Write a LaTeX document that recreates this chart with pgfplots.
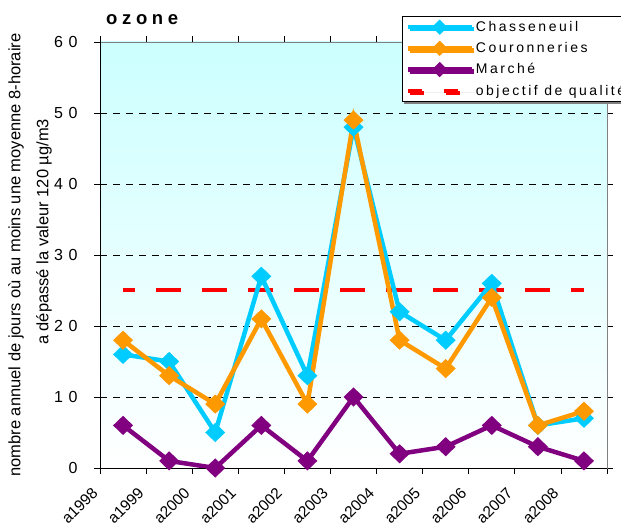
\documentclass[border=0pt]{standalone}
\usepackage{fontspec}
\setmainfont{Liberation Sans}
\newfontfamily\spaced[LetterSpace=18]{Liberation Sans}
\newfontfamily\tickspaced[LetterSpace=35]{Liberation Sans}
\newfontfamily\titlespaced[LetterSpace=25]{Liberation Sans}
\usepackage{pgfplots}
\pgfplotsset{compat=1.18}
\usetikzlibrary{shadows}
\definecolor{cchas}{HTML}{00CCFF}
\definecolor{ccour}{HTML}{FF9900}
\definecolor{cmarc}{HTML}{800080}
\definecolor{bgtop}{HTML}{CCFFFF}
\pgfplotsset{
  diamleg/.style={legend image code/.code={\draw[##1, mark repeat=2, mark phase=2] plot coordinates {(0bp,0bp) (32bp,0bp) (64bp,0bp)};}},
  dashleg/.style={legend image code/.code={\draw[##1] (0bp,0bp) -- (64bp,0bp);}},
}
\begin{document}
\begin{tikzpicture}
\begin{axis}[
  scale only axis,
  width=507bp, height=426bp,
  xmin=0, xmax=11, ymin=0, ymax=60,
  xtick={0,...,11},
  xticklabels={},
  ytick={0,10,...,60},
  yticklabels={0,10,20,30,40,50,60},
  yticklabel style={font=\tickspaced\fontsize{16bp}{18bp}\selectfont, xshift=-13bp},
  tick align=outside,
  major tick length=6bp,
  tick style={black, line width=0.8bp},
  axis line style={draw=gray, line width=0.8bp},
  ymajorgrids,
  grid style={black, line width=0.7bp, dash pattern=on 7bp off 6bp},
  axis background/.style={top color=bgtop, bottom color=white},
  clip=false,
  legend style={at={(302bp,452bp)}, anchor=north west, draw=black, fill=white,
    line width=0.8bp, font=\spaced\fontsize{14bp}{16bp}\selectfont,
    row sep=5.5bp, inner sep=3bp, cells={anchor=west},
    drop shadow={shadow xshift=2bp, shadow yshift=-2bp, fill=gray, opacity=1}},
  legend cell align=left,
  every axis plot/.append style={line width=4.5bp},
]
\addlegendimage{cchas, line width=4.5bp, mark=diamond*, mark size=6bp, mark options={solid, yscale=0.75}, diamleg}
\addlegendentry{Chasseneuil}
\addlegendimage{ccour, line width=4.5bp, mark=diamond*, mark size=6bp, mark options={solid, yscale=0.75}, diamleg}
\addlegendentry{Couronneries}
\addlegendimage{cmarc, line width=4.5bp, mark=diamond*, mark size=6bp, mark options={solid, yscale=0.75}, diamleg}
\addlegendentry{Marché}
\addlegendimage{red, line width=4bp, dash pattern=on 14bp off 22bp, dashleg}
\addlegendentry{objectif de qualité}

\addplot[red, line width=4bp, dash pattern=on 25.09bp off 21bp, dash phase=13.09bp, forget plot]
  coordinates {(0.5,25) (1.5,25) (2.5,25) (3.5,25) (4.5,25) (5.5,25) (6.5,25) (7.5,25) (8.5,25) (9.5,25) (10.5,25)};
\addplot[cchas, mark=diamond*, mark size=9bp, mark options={yscale=0.72}, forget plot]
  coordinates {(0.5,16) (1.5,15) (2.5,5) (3.5,27) (4.5,13) (5.5,48) (6.5,22) (7.5,18) (8.5,26) (9.5,6) (10.5,7)};
\addplot[ccour, mark=diamond*, mark size=9bp, mark options={yscale=0.72}, forget plot]
  coordinates {(0.5,18) (1.5,13) (2.5,9) (3.5,21) (4.5,9) (5.5,49) (6.5,18) (7.5,14) (8.5,24) (9.5,6) (10.5,8)};
\addplot[cmarc, mark=diamond*, mark size=9bp, mark options={yscale=0.72}, forget plot]
  coordinates {(0.5,6) (1.5,1) (2.5,0) (3.5,6) (4.5,1) (5.5,10) (6.5,2) (7.5,3) (8.5,6) (9.5,3) (10.5,1)};
\draw[black, line width=0.8bp] (rel axis cs:0,0) -- (rel axis cs:0,1);
\draw[black, line width=0.8bp] (rel axis cs:0,0) -- (rel axis cs:1,0);
\end{axis}
\foreach \lab [count=\i from 0] in {a1998,a1999,a2000,a2001,a2002,a2003,a2004,a2005,a2006,a2007,a2008}
  \node[rotate=45, anchor=east, font=\fontsize{15.5bp}{18bp}\selectfont, inner sep=0pt] at ({\i*46.0909bp-5bp},-22bp) {\lab};
\node[anchor=west, font=\titlespaced\bfseries\fontsize{18.5bp}{20bp}\selectfont, inner sep=0pt] at (6bp,448bp) {ozone};
\node[rotate=90, font=\fontsize{16.5bp}{19bp}\selectfont, inner sep=0pt] at (-84bp,213bp) {nombre annuel de jours où au moins une moyenne 8-horaire};
\node[rotate=90, font=\fontsize{16.5bp}{19bp}\selectfont, inner sep=0pt] at (-56bp,236bp) {a dépassé la valeur 120 µg/m3};
\pgfresetboundingbox
\path[use as bounding box] (-100bp,-60bp) rectangle (521bp,468bp);
\end{tikzpicture}
\end{document}
